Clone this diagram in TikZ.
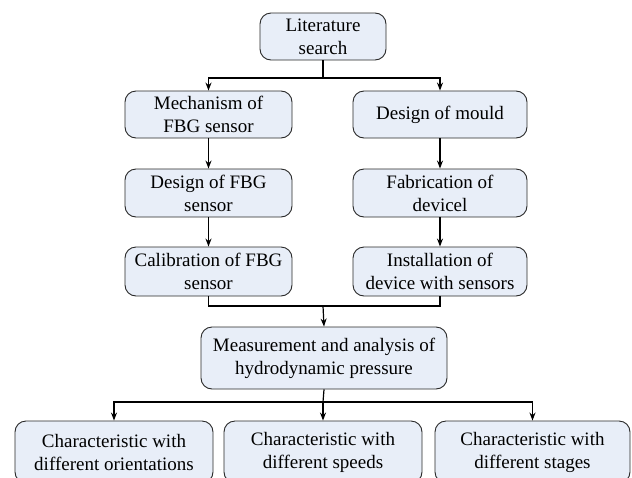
\documentclass[tikz,border=0pt]{standalone}
\usepackage{fontspec}
\setmainfont{Liberation Serif}
\usetikzlibrary{arrows.meta}
\definecolor{boxfill}{RGB}{232,238,248}
\definecolor{boxline}{RGB}{40,40,40}
\begin{document}
\begin{tikzpicture}[x=1pt,y=-1pt,
  box/.style={draw=boxline, fill=boxfill, line width=0.9pt, rounded corners=11pt,
    align=center, inner sep=0pt, font=\fontsize{19}{23}\selectfont},
  conn/.style={line width=1.2pt, draw=black},
  arr/.style={conn, -{Stealth[length=8pt,width=6pt]}}]
\useasboundingbox (0,0) rectangle (632,477);
\clip (0,0) rectangle (632,477);
\node[box, minimum width=126pt, minimum height=47pt] (lit) at (323,36.5) {Literature\\search};
\node[box, minimum width=167pt, minimum height=47pt] (mech) at (208.5,114.5) {Mechanism of\\FBG sensor};
\node[box, minimum width=174pt, minimum height=47pt] (mould) at (440,114.5) {Design of mould};
\node[box, minimum width=167pt, minimum height=48pt] (dfbg) at (208.5,193) {Design of FBG\\sensor};
\node[box, minimum width=174pt, minimum height=48pt] (fab) at (440,193) {Fabrication of\\devicel};
\node[box, minimum width=167pt, minimum height=49pt] (cal) at (208.5,271.5) {Calibration of FBG\\sensor};
\node[box, minimum width=174pt, minimum height=49pt] (inst) at (440,271.5) {Installation of\\device with sensors};
\node[box, minimum width=246pt, minimum height=62pt] (meas) at (324,358) {Measurement and analysis of\\hydrodynamic pressure};
\node[box, minimum width=198pt, minimum height=62pt] (c1) at (114,452) {Characteristic with\\different orientations};
\node[box, minimum width=198pt, minimum height=62pt] (c2) at (323,452) {Characteristic with\\different speeds};
\node[box, minimum width=195pt, minimum height=62pt] (c3) at (532.5,452) {Characteristic with\\different stages};
\coordinate (j1) at (323,78);
\coordinate (j2) at (323,306);
\coordinate (j3) at (323,402);
% top split
\draw[conn] (lit.south) -- (j1);
\draw[arr] (j1) -| (mech.north);
\draw[arr] (j1) -| (mould.north);
% columns
\draw[arr] (mech) -- (dfbg);
\draw[arr] (dfbg) -- (cal);
\draw[arr] (mould) -- (fab);
\draw[arr] (fab) -- (inst);
% merge
\draw[conn] (cal.south) |- (j2) -| (inst.south);
\draw[arr] (j2) -- (meas.north);
% bottom split
\draw[conn] (meas.south) -- (j3);
\draw[arr] (j3) -| (c1.north);
\draw[arr] (j3) -- (c2.north);
\draw[arr] (j3) -| (c3.north);
\end{tikzpicture}
\end{document}
